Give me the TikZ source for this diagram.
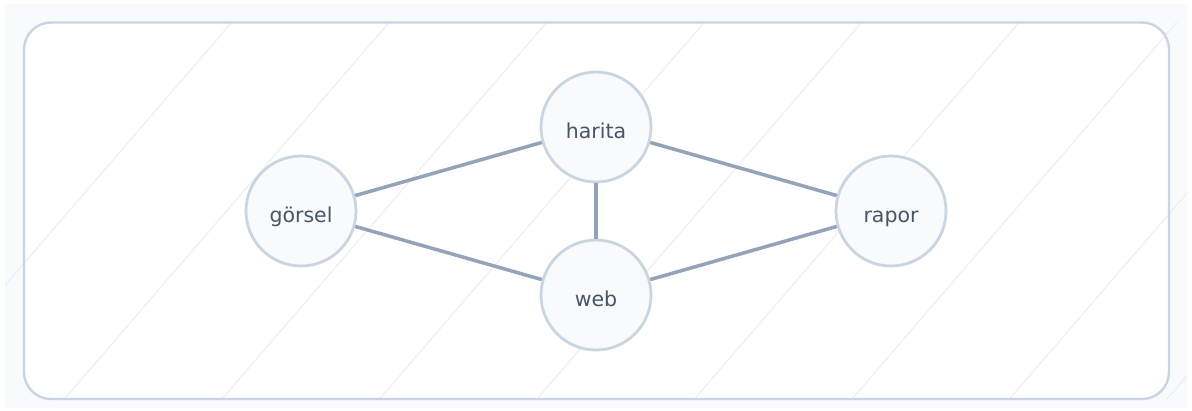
\documentclass[tikz,border=0pt]{standalone}
\usepackage{fontspec}
\setmainfont{DejaVu Sans}
\definecolor{pagebg}{HTML}{F8FAFC}
\definecolor{framec}{HTML}{CBD5E1}
\definecolor{hatchc}{HTML}{EBEFF5}
\definecolor{edgec}{HTML}{94A3B8}
\definecolor{nodefill}{HTML}{F8FAFC}
\definecolor{textc}{HTML}{475569}
\tikzset{
  topic/.style={circle, draw=framec, line width=2.8pt, fill=nodefill,
    minimum size=110pt, inner sep=0pt, text=textc,
    text height=23.5pt, text depth=0pt,
    font=\fontsize{20.5pt}{23pt}\selectfont},
  link/.style={draw=edgec, line width=3.5pt},
  hatch/.style={draw=hatchc, line width=1.1pt}
}
\begin{document}
\begin{tikzpicture}[x=1pt,y=-1pt]
\useasboundingbox (0,0) rectangle (1192,410);
\fill[white] (0,0) rectangle (1192,410);
\fill[pagebg] (5,4) rectangle (1187,408);
\fill[white, rounded corners=27pt] (24,22.5) rectangle (1169,399);
\begin{scope}
  \clip (5,22) rectangle (1187,400);
  \foreach \k in {0,...,8} {
    \pgfmathsetmacro{\xo}{232+157.5*\k}
    \draw[hatch] ({\xo+18.96},0) -- ({\xo-334.5},410);
  }
\end{scope}
\draw[framec, line width=2.4pt, rounded corners=27pt] (24,22.5) rectangle (1169,399);

\node[topic] (harita) at (596,127) {harita};
\node[topic] (gorsel) at (301,211) {görsel};
\node[topic] (rapor) at (891,211) {rapor};
\node[topic] (web) at (596,295) {web};

\draw[link] (gorsel) -- (harita);
\draw[link] (gorsel) -- (web);
\draw[link] (harita) -- (web);
\draw[link] (harita) -- (rapor);
\draw[link] (web) -- (rapor);
\end{tikzpicture}
\end{document}
